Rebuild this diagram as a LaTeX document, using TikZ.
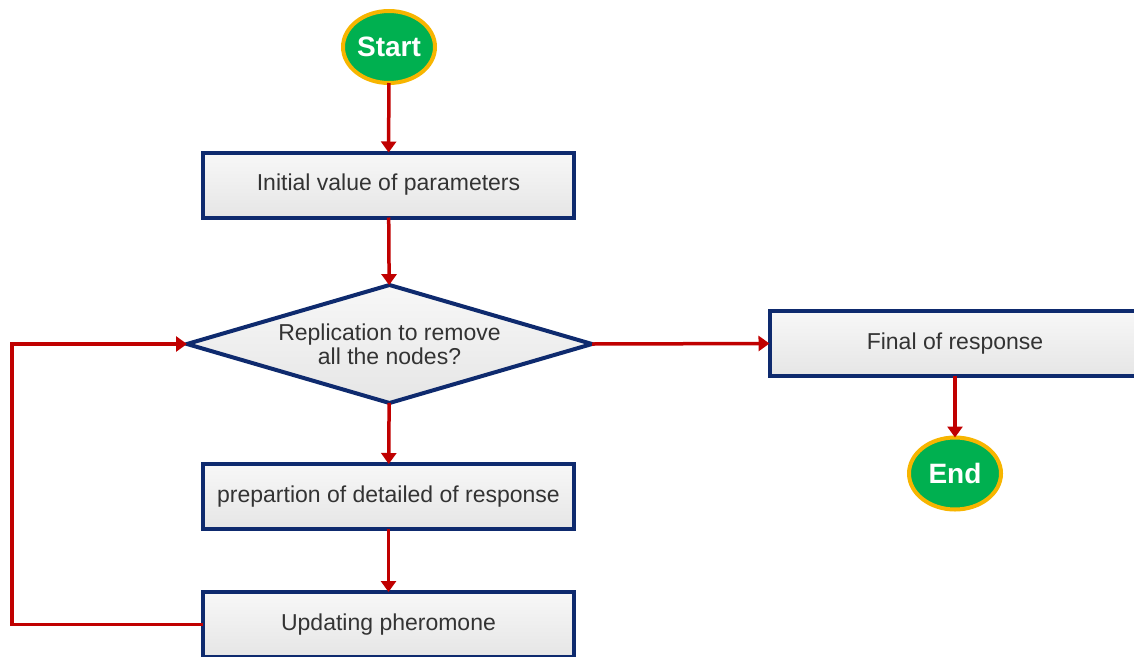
\documentclass[tikz,border=0pt]{standalone}
\usepackage{fontspec}
\setmainfont{Liberation Sans}
\usetikzlibrary{shapes.geometric,arrows.meta}
\definecolor{navy}{HTML}{0E2A6E}
\definecolor{arrred}{HTML}{C00000}
\definecolor{okgreen}{HTML}{00B050}
\definecolor{gold}{HTML}{F7B500}
\definecolor{txt}{HTML}{333333}
\tikzset{
  procbox/.style={draw=navy, line width=4pt, rectangle, top color=white!97!black, bottom color=white!90!black,
    minimum width=371pt, minimum height=65pt, inner sep=0pt, outer sep=0pt, text=txt,
    font=\fontsize{23pt}{27pt}\selectfont},
  decbox/.style={draw=navy, line width=4pt, diamond, aspect=3.43, top color=white!97!black, bottom color=white!90!black,
    minimum width=405pt, minimum height=118pt, inner sep=0pt, outer sep=0pt, text=txt, align=center,
    font=\fontsize{23pt}{24pt}\selectfont},
  term/.style={ellipse, draw=gold, fill=okgreen, line width=4pt, minimum width=92pt, minimum height=72pt,
    inner sep=0pt, outer sep=0pt, text=white, font=\bfseries\fontsize{28pt}{30pt}\selectfont},
  flow/.style={draw=arrred, line width=3.5pt, -{Triangle[length=11pt,width=15pt]}},
}
\begin{document}
\begin{tikzpicture}[x=1pt,y=-1pt]
\useasboundingbox (0,0) rectangle (1134,656);
\clip (0,0) rectangle (1134,656);
\node[term] (start) at (389,47) {Start};
\node[procbox] (init) at (388.5,185) {Initial value of parameters};
\node[decbox] (dec) at (389.5,344) {Replication to remove\\all the nodes?};
\node[procbox] (prep) at (388.5,496.5) {prepartion of detailed of response};
\node[procbox] (upd) at (388.5,624.5) {Updating pheromone};
\node[procbox] (fin) at (955,343.5) {Final of response};
\node[term] (end) at (955,473.5) {End};
\coordinate (lb) at (12,624.5);
\coordinate (lt) at (12,344);
\draw[flow] (start) -- (init);
\draw[flow] (init) -- (dec);
\draw[flow] (dec) -- (prep);
\draw[flow] (prep) -- (upd);
\draw[flow] (dec.east) -- (fin.west);
\draw[flow] (fin) -- (end);
\draw[flow] (upd.west) -- (lb) -- (lt) -- (dec.west);
\end{tikzpicture}
\end{document}
